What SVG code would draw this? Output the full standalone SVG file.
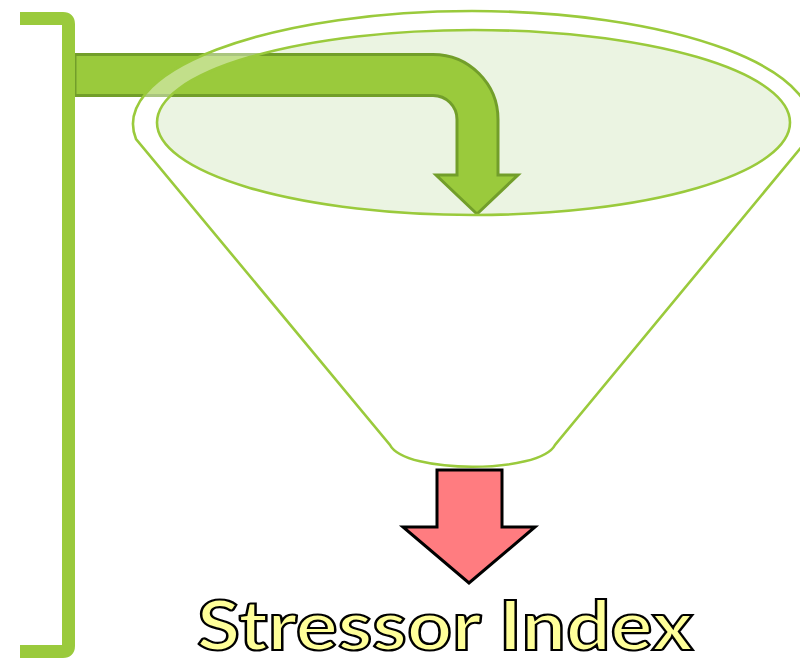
<svg xmlns="http://www.w3.org/2000/svg" width="800" height="660" viewBox="0 0 800 660">
  <style>
    .line { fill: none; stroke: #9ACA3C; stroke-width: 2.6; }
    .bracket { fill: none; stroke: #9ACA3C; stroke-width: 13; stroke-linejoin: round; }
    .bend { fill: #9ACA3C; stroke: #729E2A; stroke-width: 3; stroke-linejoin: miter; }
    .out { fill: #FF7C80; stroke: #000000; stroke-width: 3; stroke-linejoin: miter; }
    .label { font-family: Lato, "Open Sans", sans-serif; font-weight: bold; font-size: 68px; fill: #FFFF99; stroke: #000000; stroke-width: 2.2; }
  </style>
  <rect width="800" height="660" fill="#FFFFFF"/>
  <g id="funnel-top-fill">
    <ellipse cx="473.5" cy="122.5" rx="316.5" ry="92.5" fill="#EBF4E2"/>
  </g>
  <g id="connectors">
    <path class="bend" d="M 75 54.5 H 433 A 65 65 0 0 1 498 119.5 V 175 H 518 L 477 214 L 436 175 H 457 V 119.5 A 24 24 0 0 0 433 95.5 H 75 Z"/>
  </g>
  <g id="funnel">
    <path fill="#FFFFFF" fill-opacity="0.4" fill-rule="evenodd" d="M 136 139 A 339 113 0 1 1 808 139 L 555 445 C 540 474 405 474 390 445 Z M 157 122.5 A 316.5 92.5 0 1 0 790 122.5 A 316.5 92.5 0 1 0 157 122.5 Z"/>
    <path class="line" d="M 136 139 A 339 113 0 1 1 808 139 L 555 445 C 540 474 405 474 390 445 Z"/>
    <ellipse class="line" cx="473.5" cy="122.5" rx="316.5" ry="92.5"/>
  </g>
  <g id="bracket">
    <path class="bracket" d="M 20 18.5 H 63 Q 68.5 18.5 68.5 24 V 646 Q 68.5 651.5 63 651.5 H 20"/>
  </g>
  <g id="output-arrow">
    <path class="out" d="M 437 470 H 502 V 527 H 535 L 469 583 L 403 527 H 437 Z"/>
  </g>
  <g id="label">
    <text class="label" x="197" y="650" textLength="496" lengthAdjust="spacingAndGlyphs">Stressor Index</text>
  </g>
</svg>
